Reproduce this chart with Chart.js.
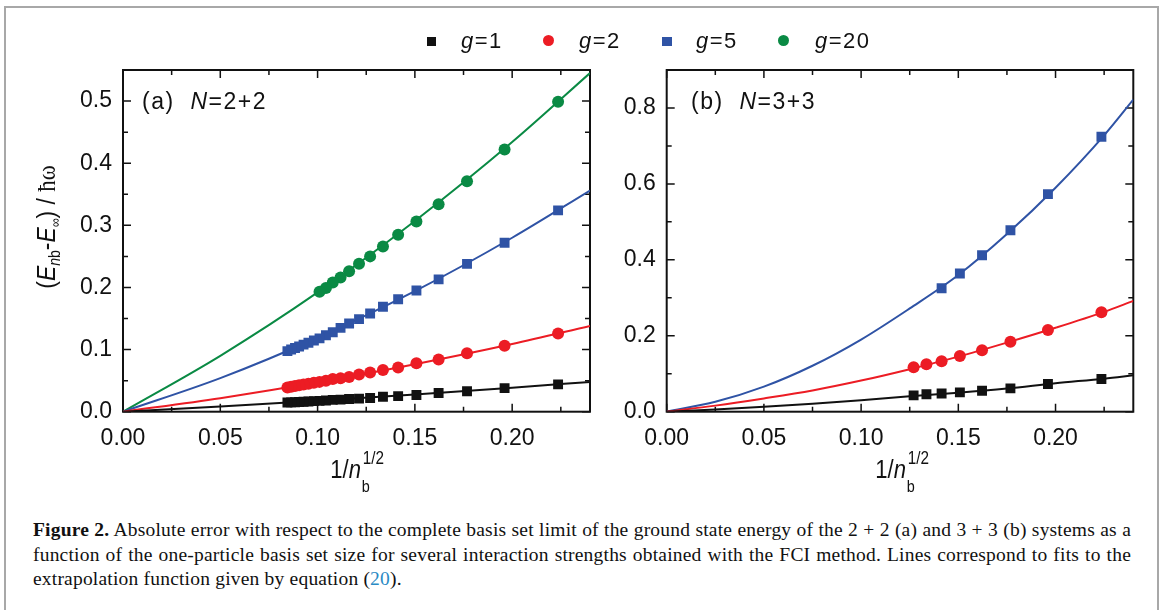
<!DOCTYPE html>
<html>
<head>
<meta charset="utf-8">
<script src="https://cdn.jsdelivr.net/npm/chart.js@4.4.1/dist/chart.umd.min.js"></script>
<style>
  html,body{margin:0;padding:0;background:#fff;}
  #wrap{position:relative;width:1165px;height:610px;overflow:hidden;background:#fff;font-family:'Liberation Sans',Arial,sans-serif;color:#111;}
  #frame{position:absolute;left:4px;top:6px;width:1155px;height:640px;border:2px solid #a8a8a8;box-sizing:border-box;}
  canvas{position:absolute;}
  .lbl{position:absolute;white-space:nowrap;line-height:1;}
  .leg{font-size:22px;letter-spacing:1.5px;}
  .mk{position:absolute;}
  .ptitle{font-size:23px;letter-spacing:1.5px;}
  .xt{font-size:26px;}
  .cap{position:absolute;left:33px;width:1098px;font-family:'Liberation Serif','Times New Roman',serif;font-size:19.5px;letter-spacing:0.2px;line-height:1;white-space:nowrap;color:#111;}
  .just{text-align:justify;text-align-last:justify;white-space:normal;}
</style>
</head>
<body>
<div id="wrap">
  <div id="frame"></div>
  <canvas id="ca" width="600" height="460" style="left:0;top:0;width:600px;height:460px"></canvas>
  <canvas id="cb" width="545" height="460" style="left:600px;top:0;width:545px;height:460px"></canvas>

  <!-- legend -->
  <div class="mk" style="left:427px;top:37px;width:9px;height:9px;background:#111"></div>
  <div class="lbl leg" style="left:461px;top:30px"><i>g</i>=1</div>
  <div class="mk" style="left:543px;top:35px;width:11px;height:11px;border-radius:50%;background:#ec1c24"></div>
  <div class="lbl leg" style="left:579px;top:30px"><i>g</i>=2</div>
  <div class="mk" style="left:662px;top:37px;width:10px;height:9px;background:#2f53a5"></div>
  <div class="lbl leg" style="left:696px;top:30px"><i>g</i>=5</div>
  <div class="mk" style="left:778px;top:35px;width:11px;height:11px;border-radius:50%;background:#0a8a44"></div>
  <div class="lbl leg" style="left:815px;top:30px"><i>g</i>=20</div>

  <!-- panel labels -->
  <div class="lbl ptitle" style="left:142px;top:90px">(a)&nbsp;&nbsp;<i>N</i>=2+2</div>
  <div class="lbl ptitle" style="left:691px;top:90px">(b)&nbsp;&nbsp;<i>N</i>=3+3</div>

  <!-- y axis title -->
  <div class="lbl xt" style="left:-54px;top:214px;width:200px;height:26px;text-align:center;transform:rotate(-90deg) scaleX(0.88);">(<i>E</i><sub style="font-size:16px;vertical-align:-5px"><i>n</i>b</sub>-<i>E</i><sub style="font-size:14px;vertical-align:-5px">∞</sub>) / <span style="font-family:'Liberation Serif',serif">ħω</span></div>

  <!-- x axis titles -->
  <div class="lbl xt" style="left:255px;top:456px;width:200px;text-align:center;transform:scaleX(0.85)">1/<i>n</i><span style="display:inline-block;position:relative;width:22px;height:10px;"><span style="position:absolute;left:2px;top:-19px;font-size:18px">1/2</span><span style="position:absolute;left:1px;top:10px;font-size:17px">b</span></span></div>
  <div class="lbl xt" style="left:800px;top:456px;width:200px;text-align:center;transform:scaleX(0.85)">1/<i>n</i><span style="display:inline-block;position:relative;width:22px;height:10px;"><span style="position:absolute;left:2px;top:-19px;font-size:18px">1/2</span><span style="position:absolute;left:1px;top:10px;font-size:17px">b</span></span></div>

  <!-- caption -->
  <div class="cap just" style="top:520px"><b>Figure 2.</b> Absolute error with respect to the complete basis set limit of the ground state energy of the 2 + 2 (a) and 3 + 3 (b) systems as a</div>
  <div class="cap just" style="top:545px">function of the one-particle basis set size for several interaction strengths obtained with the FCI method. Lines correspond to fits to the</div>
  <div class="cap" style="top:569px">extrapolation function given by equation (<span style="color:#2a8ac4">20</span>).</div>
</div>

<script>
// ---------- data ----------
const seriesNames = ['g=1', 'g=2', 'g=5', 'g=20'];
const seriesColors = ['#111111', '#ec1c24', '#2f53a5', '#0a8a44'];

// panel (a) N=2+2 : x = 1/sqrt(n_b)
const xA = [0.2236, 0.1961, 0.1768, 0.1622, 0.1508, 0.1414, 0.1336, 0.1270, 0.1213, 0.1162, 0.1118,
            0.1078, 0.1043, 0.1010, 0.0981, 0.0953, 0.0928, 0.0905, 0.0884, 0.0864, 0.0845];
const aG1  = [0.044, 0.038, 0.033, 0.030, 0.027, 0.025, 0.024, 0.022, 0.021, 0.0205, 0.0195,
              0.019, 0.018, 0.0175, 0.017, 0.0165, 0.016, 0.0157, 0.0153, 0.015, 0.0147];
const aG2  = [0.126, 0.106, 0.094, 0.084, 0.078, 0.071, 0.067, 0.063, 0.060, 0.056, 0.054,
              0.0525, 0.050, 0.048, 0.0465, 0.045, 0.0437, 0.0425, 0.0413, 0.040, 0.039];
const aG5  = [0.324, 0.272, 0.238, 0.213, 0.195, 0.181, 0.169, 0.158, 0.149, 0.142, 0.135,
              0.128, 0.123, 0.118, 0.1145, 0.111, 0.108, 0.105, 0.1025, 0.100, 0.0975];
const aG20 = [0.499, 0.422, 0.371, 0.334, 0.306, 0.285, 0.266, 0.250, 0.238, 0.226, 0.216,
              0.208, 0.199, 0.193];

// fitted curves (a)
const fitXA   = [0, 0.05, 0.10, 0.15, 0.20, 0.24];
const fitAG1  = [0, 0.0084, 0.0176, 0.0277, 0.0386, 0.048];
const fitAG2  = [0, 0.0218, 0.0473, 0.0765, 0.109, 0.138];
const fitAG5  = [0, 0.054, 0.119, 0.194, 0.280, 0.356];
const fitAG20 = [0, 0.090, 0.192, 0.307, 0.434, 0.545];

// panel (b) N=3+3
const xB  = [0.2236, 0.1961, 0.1768, 0.1622, 0.1508, 0.1414, 0.1336, 0.1270];
const bG1 = [0.086, 0.073, 0.0615, 0.055, 0.051, 0.048, 0.046, 0.043];
const bG2 = [0.262, 0.215, 0.184, 0.162, 0.147, 0.133, 0.125, 0.117];
const bG5 = [0.724, 0.573, 0.478, 0.412, 0.364, 0.325];

// fitted curves (b)
const fitXB  = [0, 0.025, 0.05, 0.075, 0.10, 0.125, 0.15, 0.175, 0.20, 0.225, 0.24];
const fitBG1 = [0, 0.006, 0.013, 0.021, 0.030, 0.041, 0.050, 0.061, 0.075, 0.087, 0.096];
const fitBG2 = [0, 0.016, 0.035, 0.056, 0.082, 0.112, 0.145, 0.182, 0.221, 0.263, 0.292];
const fitBG5 = [0, 0.026, 0.066, 0.121, 0.190, 0.272, 0.360, 0.468, 0.590, 0.728, 0.822];

// axis settings
const xMaxAll = 0.24;
const yMaxA = 0.55, yMaxB = 0.9;

// ---------- helpers ----------
const zip = (xs, ys) => ys.map((y, i) => ({x: xs[i], y}));
const markerStyle = ['rect', 'circle', 'rect', 'circle'];
const markerRadius = [7, 6, 7, 6];

function pointDs(i, xs, ys) {
  return {label: seriesNames[i], data: zip(xs, ys), showLine: false,
    pointStyle: markerStyle[i], pointRadius: markerRadius[i], pointHoverRadius: markerRadius[i],
    backgroundColor: seriesColors[i], borderColor: seriesColors[i], borderWidth: 0, order: 0};
}
function fitDs(i, xs, ys) {
  return {label: seriesNames[i] + ' fit', data: zip(xs, ys), showLine: true, pointRadius: 0,
    borderColor: seriesColors[i], borderWidth: 2, tension: 0.4, cubicInterpolationMode: 'monotone',
    fill: false, order: 1};
}

const frameTicks = {
  id: 'frameTicks',
  beforeDatasetsDraw(chart, args, opts) {
    const {ctx, chartArea: {left, right, top, bottom}, scales: {x, y}} = chart;
    ctx.save();
    ctx.strokeStyle = '#111';
    ctx.lineWidth = 1.5;
    const nx = Math.round(x.max / opts.xMinor);
    for (let i = 0; i <= nx; i++) {
      const px = x.getPixelForValue(i * opts.xMinor);
      const len = (i % 2 === 0) ? 8 : 5;
      ctx.beginPath();
      ctx.moveTo(px, bottom); ctx.lineTo(px, bottom - len);
      ctx.moveTo(px, top); ctx.lineTo(px, top + len);
      ctx.stroke();
    }
    const ny = Math.floor(y.max / opts.yMinor + 1e-6);
    for (let i = 0; i <= ny; i++) {
      const py = y.getPixelForValue(i * opts.yMinor);
      const len = (i % 2 === 0) ? 8 : 5;
      ctx.beginPath();
      ctx.moveTo(left, py); ctx.lineTo(left + len, py);
      ctx.moveTo(right, py); ctx.lineTo(right - len, py);
      ctx.stroke();
    }
    ctx.lineWidth = 2;
    ctx.strokeRect(left, top, right - left, bottom - top);
    ctx.restore();
  }
};

function makeChart(id, datasets, yMax, yStep, yMinor, yAxisWidth, padRight) {
  const canvasH = 460;
  return new Chart(document.getElementById(id), {
    type: 'scatter',
    data: {datasets},
    options: {
      responsive: false, animation: false, devicePixelRatio: 1,
      layout: {padding: {top: 70, right: padRight, left: 0, bottom: 0}},
      plugins: {legend: {display: false}, tooltip: {enabled: false},
        frameTicks: {xMinor: 0.025, yMinor: yMinor}},
      scales: {
        x: {type: 'linear', min: 0, max: xMaxAll,
          grid: {display: false, drawTicks: false}, border: {display: false},
          ticks: {stepSize: 0.05, includeBounds: false, padding: 13, color: '#111',
            font: {family: "'Liberation Sans', Arial, sans-serif", size: 23},
            callback: v => v.toFixed(2)},
          afterFit: s => { s.height = canvasH - 411.7; }},
        y: {type: 'linear', min: 0, max: yMax,
          grid: {display: false, drawTicks: false}, border: {display: false},
          ticks: {stepSize: yStep, includeBounds: false, padding: 11, color: '#111',
            font: {family: "'Liberation Sans', Arial, sans-serif", size: 23},
            callback: v => v.toFixed(1)},
          afterFit: s => { s.width = yAxisWidth; }}
      }
    },
    plugins: [frameTicks]
  });
}

makeChart('ca', [
  pointDs(0, xA, aG1), pointDs(1, xA, aG2), pointDs(2, xA, aG5), pointDs(3, xA, aG20),
  fitDs(0, fitXA, fitAG1), fitDs(1, fitXA, fitAG2), fitDs(2, fitXA, fitAG5), fitDs(3, fitXA, fitAG20)
], yMaxA, 0.1, 0.05, 123, 10);

makeChart('cb', [
  pointDs(0, xB, bG1), pointDs(1, xB, bG2), pointDs(2, xB, bG5),
  fitDs(0, fitXB, fitBG1), fitDs(1, fitXB, fitBG2), fitDs(2, fitXB, fitBG5)
], yMaxB, 0.2, 0.1, 66.7, 11.7);
</script>
</body>
</html>
